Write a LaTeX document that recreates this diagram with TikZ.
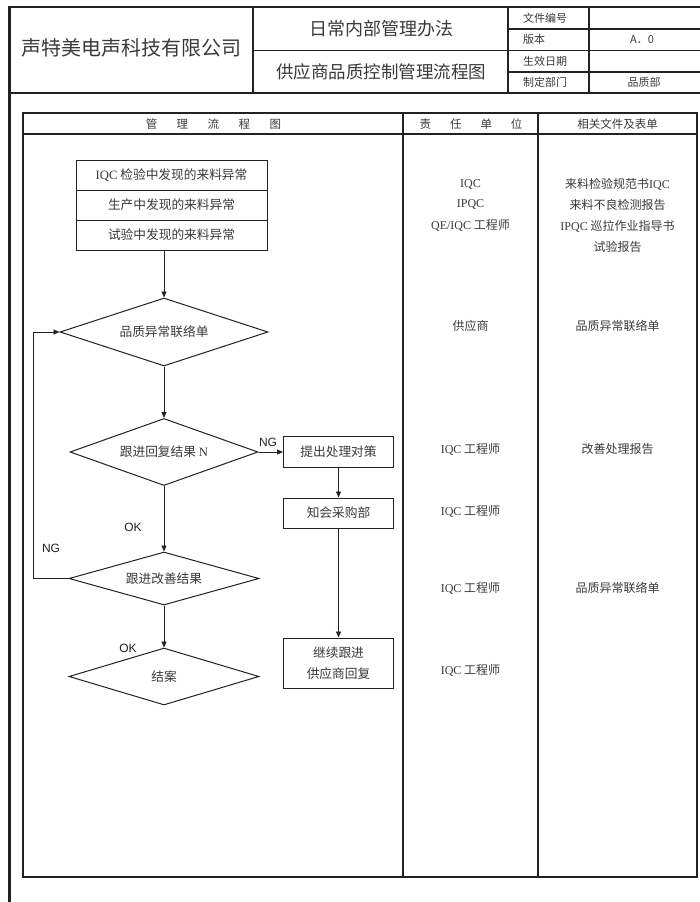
\documentclass[tikz,border=0pt]{standalone}
\usepackage{fontspec}
\setmainfont{Noto Sans CJK SC}
\newfontfamily\serifl{Liberation Serif}
\newfontfamily\arialf{Liberation Sans}
\usetikzlibrary{shapes.geometric,arrows.meta}
\definecolor{ink}{HTML}{222222}
\definecolor{txt}{HTML}{3A3A3A}
\newcommand{\lt}[1]{{\serifl #1}}
\newcommand{\fs}[1]{\fontsize{#1}{#1}\selectfont}
\begin{document}
\begin{tikzpicture}[x=1pt,y=-1pt,
 frame/.style={draw=ink,line width=1.4pt},
 flow/.style={draw=ink,line width=0.9pt},
 arr/.style={flow,-{Triangle[length=6pt,width=5pt]}},
 dia/.style={diamond,draw=ink,line width=1pt,inner sep=0pt,text=txt,font=\fs{12.7}},
 fbox/.style={rectangle,draw=ink,line width=1pt,inner sep=0pt,text=txt,font=\fs{12.7},align=center},
 lbl/.style={text=txt,font=\fs{12},inner sep=0pt,align=center},
 tag/.style={font=\arialf\fs{12},text=ink,inner sep=0pt},
 cell/.style={text=txt,inner sep=0pt},
]
\useasboundingbox (0,0) rectangle (700,902);
\clip (0,0) rectangle (700,902);
\fill[white] (0,0) rectangle (700,902);
% ---------- header ----------
\draw[ink,line width=2.4pt] (9.5,910) -- (9.5,7);
\draw[frame] (8.3,7) -- (712,7);
\draw[frame] (9.5,93) -- (712,93);
\draw[frame] (253,7) -- (253,93);
\draw[frame] (508,7) -- (508,93);
\draw[frame] (589,7) -- (589,93);
\draw[frame] (253,50.5) -- (508,50.5);
\draw[frame] (508,29) -- (712,29);
\draw[frame] (508,50.5) -- (712,50.5);
\draw[frame] (508,72) -- (712,72);
\node[cell,font=\fs{20}] (company) at (131,48) {声特美电声科技有限公司};
\node[cell,font=\fs{18}] (title1) at (381,29) {日常内部管理办法};
\node[cell,font=\fs{17.5}] (title2) at (381,72) {供应商品质控制管理流程图};
\node[cell,font=\fs{11},anchor=west] (k1) at (523,18) {文件编号};
\node[cell,font=\fs{11},anchor=west] (k2) at (523,39.5) {版本};
\node[cell,font=\fs{11},anchor=west] (k3) at (523,61) {生效日期};
\node[cell,font=\fs{11},anchor=west] (k4) at (523,82) {制定部门};
\node[cell,font=\fs{11}] (v2) at (642,39.5) {A．0};
\node[cell,font=\fs{11}] (v4) at (644,82) {品质部};
% ---------- inner table ----------
\draw[frame,line width=1.3pt] (23,113) rectangle (697,877);
\draw[frame,line width=1.3pt] (23,134) -- (697,134);
\draw[frame,line width=1.3pt] (403,113) -- (403,877);
\draw[frame,line width=1.3pt] (538,113) -- (538,877);
\node[cell,font=\fs{11.5}] (h1) at (213.5,124) {管\hspace{19.5pt}理\hspace{19.5pt}流\hspace{19.5pt}程\hspace{19.5pt}图};
\node[cell,font=\fs{11.5}] (h2) at (471,124) {责\hspace{19pt}任\hspace{19pt}单\hspace{19pt}位};
\node[cell,font=\fs{11.5}] (h3) at (617.5,124) {相关文件及表单};
% ---------- flow ----------
\node[fbox,minimum width=191pt,minimum height=30pt] (b1) at (171.5,175) {\lt{IQC} 检验中发现的来料异常};
\node[fbox,minimum width=191pt,minimum height=30pt] (b2) at (171.5,205) {生产中发现的来料异常};
\node[fbox,minimum width=191pt,minimum height=30pt] (b3) at (171.5,235) {试验中发现的来料异常};
\node[dia,shape aspect=3.06,minimum width=208pt,minimum height=68pt] (d1) at (164,332) {品质异常联络单};
\node[dia,shape aspect=2.8,minimum width=188pt,minimum height=67pt] (d2) at (164,452) {跟进回复结果 \lt{N}};
\node[dia,shape aspect=3.6,minimum width=190pt,minimum height=53pt] (d3) at (164,578.5) {跟进改善结果};
\node[dia,shape aspect=3.3,minimum width=190pt,minimum height=57pt] (d4) at (164,676.5) {结案};
\node[fbox,minimum width=110pt,minimum height=31pt] (p1) at (338.5,452) {提出处理对策};
\node[fbox,minimum width=110pt,minimum height=30pt] (p2) at (338.5,513) {知会采购部};
\node[fbox,minimum width=110pt,minimum height=50pt,inner sep=0pt] (p3) at (338.5,663) {继续跟进\\[8pt]供应商回复};
\coordinate (fb) at (33,0);
\draw[arr] (b3.south -| d1.north) -- (d1.north);
\draw[arr] (d1.south) -- (d2.north);
\draw[arr] (d2.south) -- (d3.north);
\draw[arr] (d3.south) -- (d4.north);
\draw[arr] (d2.east) -- (p1.west);
\draw[arr] (p1.south) -- (p2.north);
\draw[arr] (p2.south) -- (p3.north);
\draw[arr] (d3.west) -- (d3.west -| fb) |- (d1.west);
\node[tag] (ng1) at (268,442) {NG};
\node[tag] (ok1) at (133,527) {OK};
\node[tag] (ng2) at (51,548) {NG};
\node[tag] (ok2) at (128,648) {OK};
% ---------- responsibility ----------
\node[lbl] (r1) at (470.5,205.5) {\lt{IQC}\\[8.5pt]\lt{IPQC}\\[8.5pt]\lt{QE/IQC} 工程师};
\node[lbl] (r2) at (470.5,326) {供应商};
\node[lbl] (r3) at (470.5,449) {\lt{IQC} 工程师};
\node[lbl] (r4) at (470.5,511) {\lt{IQC} 工程师};
\node[lbl] (r5) at (470.5,588) {\lt{IQC} 工程师};
\node[lbl] (r6) at (470.5,670) {\lt{IQC} 工程师};
% ---------- documents ----------
\node[lbl] (f1) at (617.5,215.5) {来料检验规范书\lt{IQC}\\[8.3pt]来料不良检测报告\\[8.3pt]\lt{IPQC} 巡拉作业指导书\\[8.3pt]试验报告};
\node[lbl] (f2) at (617.5,326) {品质异常联络单};
\node[lbl] (f3) at (617.5,449) {改善处理报告};
\node[lbl] (f4) at (617.5,588) {品质异常联络单};
\end{tikzpicture}
\end{document}
